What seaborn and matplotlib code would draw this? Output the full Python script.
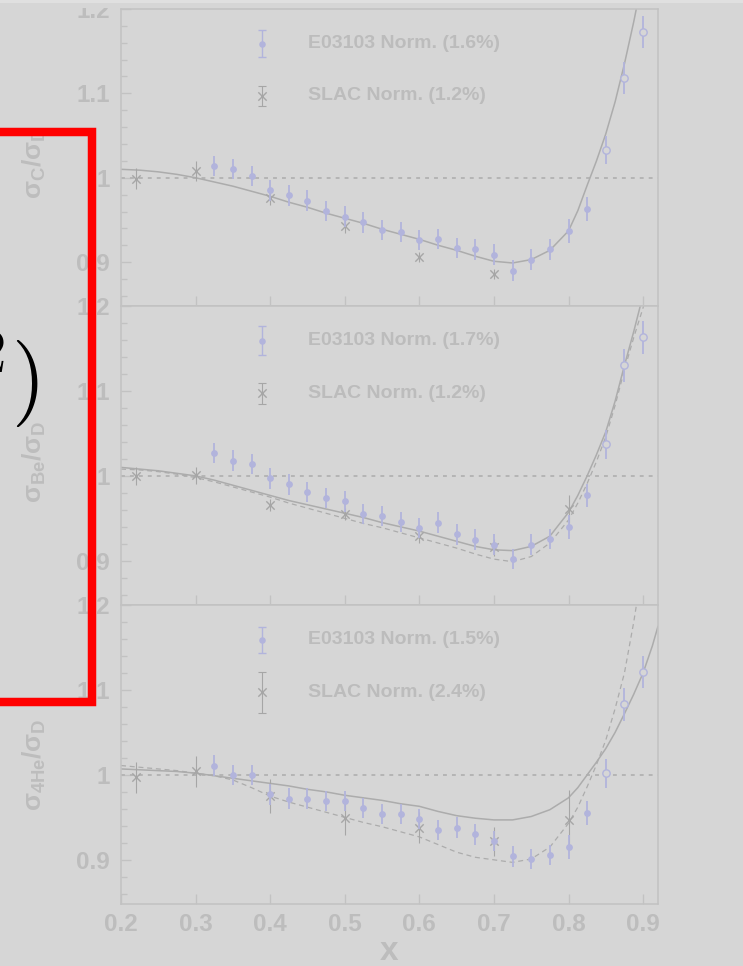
import matplotlib
matplotlib.use("Agg")
import matplotlib.pyplot as plt
import seaborn as sns
import pandas as pd
from matplotlib.patches import Rectangle
from matplotlib.ticker import FixedLocator, FixedFormatter, MultipleLocator, NullLocator

# ---------------------------------------------------------------- data
TARGETS = ["C", "Be", "4He"]
Y_LABELS = [r"$\sigma_{C}/\sigma_{D}$", r"$\sigma_{Be}/\sigma_{D}$", r"$\sigma_{4He}/\sigma_{D}$"]

E_NORM = [1.6, 1.7, 1.5]      # E03103 normalisation uncertainty (%)
SLAC_NORM = [1.2, 1.2, 2.4]   # SLAC normalisation uncertainty (%)

# E03103 ratios (filled points)
E_X = [0.325, 0.35, 0.375, 0.40, 0.425, 0.45, 0.475, 0.50, 0.525, 0.55, 0.575,
       0.60, 0.625, 0.65, 0.675, 0.70, 0.725, 0.75, 0.775, 0.80, 0.825]
E_C = [1.014, 1.010, 1.002, 0.985, 0.979, 0.973, 0.961, 0.954, 0.947, 0.938, 0.936,
       0.926, 0.927, 0.917, 0.915, 0.909, 0.890, 0.903, 0.915, 0.937, 0.963]
E_BE = [1.027, 1.018, 1.014, 0.997, 0.990, 0.981, 0.974, 0.970, 0.955, 0.953, 0.946,
        0.939, 0.945, 0.931, 0.925, 0.919, 0.902, 0.919, 0.926, 0.940, 0.977]
E_HE = [1.011, 1.000, 1.000, 0.977, 0.972, 0.972, 0.969, 0.969, 0.961, 0.954, 0.954,
        0.948, 0.935, 0.938, 0.930, 0.922, 0.904, 0.901, 0.906, 0.915, 0.955]
E_ERR = [0.012] * 19 + [0.014, 0.014]

# E03103 ratios at the highest x (open points)
EO_X = [0.85, 0.875, 0.90]
EO_C = [1.033, 1.118, 1.173]
EO_BE = [1.037, 1.130, 1.163]
EO_HE = [1.002, 1.083, 1.121]
EO_ERR = [0.017, 0.019, 0.019]

# SLAC ratios
S_X_C = [0.22, 0.30, 0.40, 0.50, 0.60, 0.70]
S_C = [0.999, 1.008, 0.976, 0.943, 0.906, 0.886]
S_C_ERR = [0.012, 0.012, 0.008, 0.008, 0.006, 0.006]
S_X = [0.22, 0.30, 0.40, 0.50, 0.60, 0.70, 0.80]
S_BE = [1.000, 1.001, 0.966, 0.955, 0.929, 0.916, 0.961]
S_BE_ERR = [0.011, 0.010, 0.007, 0.007, 0.008, 0.010, 0.017]
S_HE = [0.997, 1.004, 0.975, 0.949, 0.938, 0.922, 0.947]
S_HE_ERR = [0.018, 0.018, 0.020, 0.020, 0.018, 0.017, 0.035]

# model curves
THEORY_X = [0.200, 0.225, 0.250, 0.275, 0.300, 0.325, 0.350, 0.375, 0.400, 0.425,
            0.450, 0.475, 0.500, 0.525, 0.550, 0.575, 0.600, 0.625, 0.650, 0.675,
            0.700, 0.725, 0.750, 0.775, 0.800, 0.8125, 0.825, 0.8375, 0.850, 0.8625,
            0.875, 0.8875, 0.900, 0.9125, 0.920]
SOLID_C = [1.010, 1.009, 1.007, 1.004, 1.000, 0.995, 0.990, 0.984, 0.978, 0.971,
           0.965, 0.958, 0.952, 0.946, 0.939, 0.933, 0.927, 0.920, 0.914, 0.907,
           0.901, 0.899, 0.903, 0.914, 0.937, 0.961, 0.991, 1.020, 1.052, 1.090,
           1.135, 1.185, 1.240, 1.300, 1.340]
SOLID_BE = [1.010, 1.008, 1.006, 1.003, 1.000, 0.995, 0.989, 0.983, 0.977, 0.971,
            0.966, 0.961, 0.956, 0.951, 0.945, 0.940, 0.935, 0.929, 0.923, 0.917,
            0.913, 0.912, 0.917, 0.929, 0.957, 0.977, 1.000, 1.025, 1.052, 1.088,
            1.130, 1.170, 1.213, 1.270, 1.300]
DASHED_BE = [1.008, 1.007, 1.005, 1.002, 0.998, 0.993, 0.987, 0.981, 0.975, 0.968,
             0.962, 0.956, 0.950, 0.944, 0.939, 0.933, 0.927, 0.921, 0.915, 0.908,
             0.902, 0.899, 0.905, 0.921, 0.948, 0.968, 0.991, 1.017, 1.046, 1.083,
             1.125, 1.163, 1.198, 1.240, 1.270]
SOLID_HE = [1.007, 1.006, 1.005, 1.004, 1.002, 0.999, 0.996, 0.993, 0.990, 0.987,
            0.983, 0.980, 0.976, 0.973, 0.970, 0.966, 0.963, 0.957, 0.952, 0.949,
            0.947, 0.947, 0.951, 0.959, 0.973, 0.985, 1.000, 1.015, 1.031, 1.050,
            1.072, 1.095, 1.120, 1.152, 1.175]
DASHED_HE = [1.011, 1.009, 1.007, 1.005, 1.002, 0.999, 0.994, 0.985, 0.975, 0.968,
             0.962, 0.956, 0.950, 0.944, 0.939, 0.933, 0.927, 0.918, 0.909, 0.903,
             0.900, 0.897, 0.901, 0.915, 0.943, 0.962, 0.986, 1.012, 1.041, 1.078,
             1.120, 1.180, 1.250, 1.320, 1.360]

X_TICKS = [0.2, 0.3, 0.4, 0.5, 0.6, 0.7, 0.8, 0.9]
X_TICK_LABELS = ["0.2", "0.3", "0.4", "0.5", "0.6", "0.7", "0.8", "0.9"]
Y_TICKS = [0.9, 1.0, 1.1, 1.2]
Y_TICK_LABELS = ["0.9", "1", "1.1", "1.2"]

PANELS = [
    dict(e=E_C, eo=EO_C, sx=S_X_C, s=S_C, serr=S_C_ERR, solid=SOLID_C, dashed=None),
    dict(e=E_BE, eo=EO_BE, sx=S_X, s=S_BE, serr=S_BE_ERR, solid=SOLID_BE, dashed=DASHED_BE),
    dict(e=E_HE, eo=EO_HE, sx=S_X, s=S_HE, serr=S_HE_ERR, solid=SOLID_HE, dashed=DASHED_HE),
]

# ---------------------------------------------------------------- style
BG = "#d6d6d6"
TOP_BAND = "#e0e0e0"
AXC = "#c2c2c2"
TXT = "#bdbdbd"
LEG_TXT = "#bcbcbc"
LAV = "#b2b4dc"
SLAC_C = "#a6a6a6"
CURVE = "#acacac"
REF = "#b5b5b5"

sns.set_style("white")
plt.rcParams["font.family"] = ["Liberation Sans", "DejaVu Sans"]
plt.rcParams["font.weight"] = "bold"
plt.rcParams["mathtext.fontset"] = "custom"
plt.rcParams["mathtext.rm"] = "Liberation Sans:bold"
plt.rcParams["mathtext.it"] = "Liberation Sans:bold"
plt.rcParams["mathtext.bf"] = "Liberation Sans:bold"
plt.rcParams["mathtext.sf"] = "Liberation Sans:bold"

W, H = 743, 966
fig = plt.figure(figsize=(W / 100, H / 100), dpi=100, facecolor=BG)

PANEL_EDGES = [(9, 306), (306, 605), (605, 904)]
LEFT_PX, RIGHT_PX = 121, 658
LABEL_Y_PX = [163, 462, 765]
LEG_Y_E = 1.159
LEG_Y_S = 1.097
LEG_MARK_X = 0.389
LEG_TEXT_X = 0.451

axes = []
for i, (top, bot) in enumerate(PANEL_EDGES):
    ax = fig.add_axes([LEFT_PX / W, 1 - bot / H, (RIGHT_PX - LEFT_PX) / W, (bot - top) / H])
    ax.set_facecolor(BG)
    p = PANELS[i]

    # reference line at unity
    ax.axhline(1.0, color=REF, lw=1.4, linestyle=(0, (2.0, 2.6)), zorder=1)

    # model curves
    sns.lineplot(x=THEORY_X, y=p["solid"], ax=ax, color=CURVE, lw=1.1,
                 estimator=None, sort=False, zorder=2)
    if p["dashed"] is not None:
        sns.lineplot(x=THEORY_X, y=p["dashed"], ax=ax, color=CURVE, lw=0.9,
                     linestyle=(0, (4, 3)), estimator=None, sort=False, zorder=2)

    # SLAC
    ax.errorbar(p["sx"], p["s"], yerr=p["serr"], fmt="none", ecolor=SLAC_C,
                elinewidth=0.8, zorder=3)
    sns.scatterplot(x=p["sx"], y=p["s"], ax=ax, marker="x", s=36, color=SLAC_C,
                    linewidth=1.0, zorder=4)

    # E03103
    ax.errorbar(E_X, p["e"], yerr=E_ERR, fmt="none", ecolor=LAV, elinewidth=1.3, zorder=5)
    sns.scatterplot(x=E_X, y=p["e"], ax=ax, marker="o", s=24, color=LAV,
                    edgecolor=LAV, linewidth=0, zorder=6)
    ax.errorbar(EO_X, p["eo"], yerr=EO_ERR, fmt="none", ecolor=LAV, elinewidth=1.3, zorder=5)
    sns.scatterplot(x=EO_X, y=p["eo"], ax=ax, marker="o", s=28, facecolor=BG,
                    edgecolor=LAV, linewidth=1.0, zorder=6)

    # in-panel key: marker with the normalisation uncertainty as its bar
    ax.errorbar([LEG_MARK_X], [LEG_Y_E], yerr=[E_NORM[i] / 100], fmt="none",
                ecolor=LAV, elinewidth=1.0, capsize=2.6, capthick=1.0, zorder=5)
    sns.scatterplot(x=[LEG_MARK_X], y=[LEG_Y_E], ax=ax, marker="o", s=22,
                    color=LAV, linewidth=0, zorder=6)
    ax.text(LEG_TEXT_X, LEG_Y_E, f"E03103 Norm. ({E_NORM[i]:.1f}%)", color=LEG_TXT,
            fontsize=14, fontweight="bold", va="center", ha="left")
    ax.errorbar([LEG_MARK_X], [LEG_Y_S], yerr=[SLAC_NORM[i] / 100], fmt="none",
                ecolor=SLAC_C, elinewidth=0.8, capsize=2.6, capthick=0.8, zorder=3)
    sns.scatterplot(x=[LEG_MARK_X], y=[LEG_Y_S], ax=ax, marker="x", s=36,
                    color=SLAC_C, linewidth=1.0, zorder=4)
    ax.text(LEG_TEXT_X, LEG_Y_S, f"SLAC Norm. ({SLAC_NORM[i]:.1f}%)", color=LEG_TXT,
            fontsize=14, fontweight="bold", va="center", ha="left")

    # axes
    ax.set_xlim(0.2, 0.92)
    ax.set_ylim(0.848, 1.2)
    ax.xaxis.set_major_locator(FixedLocator(X_TICKS))
    ax.xaxis.set_major_formatter(FixedFormatter(X_TICK_LABELS))
    ax.xaxis.set_minor_locator(NullLocator())
    ax.yaxis.set_major_locator(FixedLocator(Y_TICKS))
    ax.yaxis.set_major_formatter(FixedFormatter(Y_TICK_LABELS))
    ax.yaxis.set_minor_locator(MultipleLocator(0.02))
    ax.tick_params(axis="both", which="major", direction="in", length=7.5, width=1.0,
                   color=AXC, labelcolor=TXT, labelsize=17.5, left=True, bottom=True,
                   right=False, top=False)
    ax.tick_params(axis="y", which="major", pad=8)
    ax.tick_params(axis="x", which="major", pad=6.5)
    ax.tick_params(axis="y", which="minor", direction="in", length=4.3, width=1.0,
                   color=AXC, left=True, right=False)
    if i < 2:
        ax.tick_params(axis="x", labelbottom=False)
    for lab in ax.get_xticklabels() + ax.get_yticklabels():
        lab.set_fontweight("bold")
    for sp in ax.spines.values():
        sp.set_color(AXC)
        sp.set_linewidth(1.1)
        sp.set_visible(True)
    ax.set_xlabel("")
    ax.set_ylabel("")
    axes.append(ax)

    fig.text(34 / W, 1 - LABEL_Y_PX[i] / H, Y_LABELS[i], rotation=90, ha="center",
             va="center", fontsize=19, color=TXT)

fig.text(389 / W, 1 - 952 / H, "x", ha="center", va="center", fontsize=24,
         fontweight="bold", color=TXT)

# strip along the top edge
fig.add_artist(Rectangle((0, 1 - 8 / H), 1, 8 / H, transform=fig.transFigure,
                         facecolor=BG, edgecolor="none", zorder=20))
fig.add_artist(Rectangle((0, 1 - 3 / H), 1, 3 / H, transform=fig.transFigure,
                         facecolor=TOP_BAND, edgecolor="none", zorder=21))

# highlight frame and heading fragment
fig.add_artist(Rectangle((-40 / W, 1 - 702 / H), (91.5 + 40) / W, (702 - 131.5) / H,
                         transform=fig.transFigure, facecolor="none", edgecolor="#ff0000",
                         lw=6.1, joinstyle="miter", zorder=30, clip_on=False))
fig.text(39 / W, 1 - 379 / H, r"$Q^{2})$", ha="right", va="center", fontsize=63,
         color="black", math_fontfamily="cm", zorder=31)

fig.savefig("out.png", dpi=100, facecolor=BG)
